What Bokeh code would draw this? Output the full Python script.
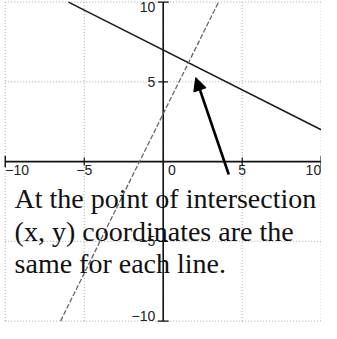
from bokeh.plotting import figure
from bokeh.models import ColumnDataSource, Arrow, NormalHead, Range1d
from bokeh.core.properties import value
from bokeh.embed import file_html
from bokeh.resources import INLINE

# grid / ticks
grid_vals = [-10, -5, 0, 5, 10]
tick_vals = [-5, 5]
x_tick_labels = ["−10", "−5", "0", "5", "10"]
x_tick_pos = [-10, -5, 0.55, 5, 10]
x_tick_align = ["left", "center", "center", "center", "right"]
y_tick_vals = [10, 5, -5, -10]
y_tick_labels = ["10", "5", "−5", "−10"]
y_tick_baseline = ["top", "middle", "middle", "bottom"]

# lines
line1_x = [-6, 10]
line1_y = [10, 2]       # y = -0.5x + 7
line2_x = [-6.5, 3.5]
line2_y = [-10, 10]     # y = 2x + 3

# annotation
caption_lines = ["At the point of intersection",
                 "(x, y) coordinates are the",
                 "same for each line."]
caption_x = [-9.41, -9.41, -9.41]
caption_y = [-2.31, -4.38, -6.39]
arrow_start = (4.15, -0.81)
arrow_end = (2.06, 5.27)

p = figure(width=321, height=323, output_backend="svg", toolbar_location=None,
           x_range=Range1d(-10.3, 10.02), y_range=Range1d(-10.15, 10.1),
           min_border=0, min_border_left=0, min_border_right=0,
           min_border_top=0, min_border_bottom=0)
p.axis.visible = False
p.grid.visible = False
p.outline_line_color = None
p.background_fill_color = "white"
p.border_fill_color = "white"

# dotted grid
lo, hi = min(grid_vals), max(grid_vals)
p.segment(x0=grid_vals, y0=[lo]*len(grid_vals), x1=grid_vals, y1=[hi]*len(grid_vals),
          line_color="#a8a8a8", line_width=1, line_dash="1 2")
p.segment(x0=[lo]*len(grid_vals), y0=grid_vals, x1=[hi]*len(grid_vals), y1=grid_vals,
          line_color="#a8a8a8", line_width=1, line_dash="1 2")

# axes through origin
p.segment(x0=[lo, 0], y0=[0, lo], x1=[hi, 0], y1=[0, hi], line_color="#111111", line_width=1.6)
# end caps and ticks
cap = 0.35
ends = [lo, hi]
p.segment(x0=ends, y0=[-cap]*2, x1=ends, y1=[cap]*2, line_color="#111111", line_width=1.4)
p.segment(x0=[-cap]*2, y0=ends, x1=[cap]*2, y1=ends, line_color="#111111", line_width=1.4)
p.segment(x0=tick_vals, y0=[-0.25]*2, x1=tick_vals, y1=[0.25]*2, line_color="#111111", line_width=1.2)
p.segment(x0=[-0.3]*2, y0=tick_vals, x1=[0.3]*2, y1=tick_vals, line_color="#111111", line_width=1.2)

# tick labels
xsrc = ColumnDataSource(dict(x=x_tick_pos, y=[0]*len(x_tick_pos), t=x_tick_labels, a=x_tick_align))
p.text(x="x", y="y", text="t", source=xsrc, text_align="a", text_baseline="top",
       y_offset=3, text_font=value("Liberation Sans"), text_font_size="14px", text_color="#222222")
ysrc = ColumnDataSource(dict(x=[0]*len(y_tick_vals), y=y_tick_vals, t=y_tick_labels, b=y_tick_baseline))
p.text(x="x", y="y", text="t", source=ysrc, text_align="right", text_baseline="b",
       x_offset=-8, text_font=value("Liberation Sans"), text_font_size="14px", text_color="#222222")

# the two lines
p.line(line1_x, line1_y, line_color="#1a1a1a", line_width=1.6)
p.line(line2_x, line2_y, line_color="#666666", line_width=1.3, line_dash="5 2")

# arrow
p.add_layout(Arrow(end=NormalHead(size=13, fill_color="black", line_color="black"),
                   x_start=arrow_start[0], y_start=arrow_start[1],
                   x_end=arrow_end[0], y_end=arrow_end[1],
                   line_color="black", line_width=2.6))

# caption
csrc = ColumnDataSource(dict(x=caption_x, y=caption_y, t=caption_lines))
p.text(x="x", y="y", text="t", source=csrc, text_align="left", text_baseline="alphabetic",
       text_font=value("Liberation Serif"), text_font_size="28px", text_color="#111111")

open("out.html", "w").write(file_html(p, INLINE))
